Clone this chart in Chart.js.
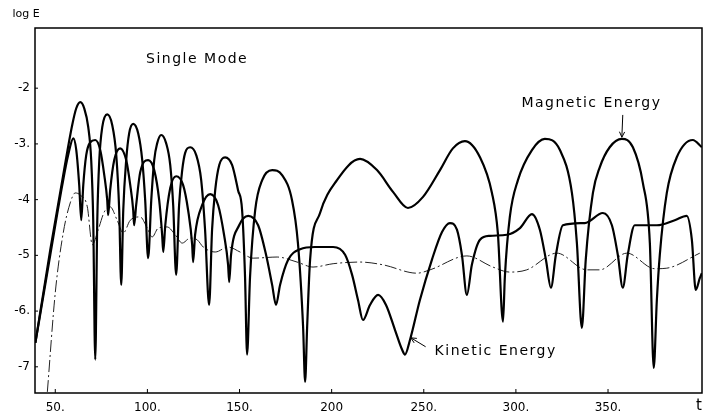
<!DOCTYPE html>
<html>
<head>
<meta charset="utf-8">
<script src="https://cdn.jsdelivr.net/npm/chart.js@4"></script>
<style>
  html, body { margin: 0; padding: 0; background: #fff; }
</style>
</head>
<body>
<canvas id="grafico" width="720" height="418"></canvas>
<script>
// Magnetic energy (thick, higher arches)
const magT = [39.2,47.3,54.3,59.2,61.4,63.6,65.7,67.9,69.5,70.6,71.7,72.8,73.9,75.5,78.2,80.9,83.1,84.7,85.8,86.9,88.5,90.1,92.3,95.0,97.2,98.8,100.4,102.1,103.7,105.3,107.5,110.2,112.4,114.0,115.6,117.2,118.9,120.5,123.2,126.5,129.2,131.3,133.5,135.1,136.8,139.0,142.2,146.0,149.2,151.4,153.0,154.1,155.7,158.5,162.3,167.7,173.1,178.5,181.7,184.5,185.6,186.7,188.3,193.7,202.9,215.4,224.6,233.3,241.4,249.6,258.8,265.8,272.3,280.5,287.0,290.2,293.0,294.0,296.7,301.1,308.7,315.7,323.9,330.4,333.1,335.8,337.9,341.8,345.5,350.9,357.5,363.5,368.9,372.7,374.8,376.5,378.1,381.9,387.3,396.0,400.9];
const magE = [-6.57,-4.90,-3.56,-2.66,-2.36,-2.25,-2.36,-2.70,-3.29,-4.37,-6.87,-4.37,-3.29,-2.70,-2.47,-2.66,-3.20,-4.19,-5.53,-4.19,-3.29,-2.81,-2.64,-2.81,-3.29,-4.01,-5.05,-4.01,-3.29,-2.99,-2.84,-2.99,-3.38,-4.10,-5.35,-4.10,-3.47,-3.16,-3.06,-3.20,-3.65,-4.54,-5.89,-4.54,-3.83,-3.38,-3.24,-3.38,-3.83,-4.19,-5.39,-6.78,-5.39,-4.19,-3.65,-3.47,-3.56,-4.01,-4.78,-6.28,-7.27,-6.28,-5.08,-4.24,-3.65,-3.27,-3.47,-3.86,-4.15,-3.95,-3.47,-3.08,-2.95,-3.24,-3.88,-4.60,-6.19,-5.39,-4.31,-3.65,-3.11,-2.91,-3.11,-3.88,-4.78,-6.30,-5.08,-3.88,-3.42,-3.06,-2.91,-3.06,-3.70,-4.78,-7.02,-5.80,-4.99,-3.88,-3.24,-2.93,-3.06];

// Kinetic energy (thick, lower arches)
const kinT = [39.2,47.3,53.8,57.0,59.8,61.4,63.0,64.1,65.2,66.8,69.0,71.7,74.4,76.6,78.2,78.7,79.8,82.0,85.2,88.5,90.7,92.3,92.8,93.9,96.1,100.4,103.7,106.4,108.0,108.6,109.7,112.4,115.6,119.4,122.1,124.3,124.8,125.9,129.7,134.1,138.4,141.6,143.8,144.4,145.4,149.8,154.7,160.1,164.4,167.7,169.8,172.0,176.4,182.9,191.0,200.8,207.3,211.1,214.3,217.0,220.8,225.2,229.5,234.4,238.2,239.8,242.5,247.9,254.4,259.9,264.2,268.0,270.7,273.4,276.1,280.5,285.9,295.1,302.2,308.7,313.0,316.3,319.0,321.7,325.5,337.4,347.2,352.1,355.3,358.0,360.7,364.5,376.5,386.2,392.7,395.5,397.6,399.8,400.9];
const kinE = [-6.57,-4.99,-3.74,-3.20,-2.90,-3.11,-3.74,-4.37,-3.74,-3.20,-2.97,-2.93,-3.11,-3.56,-4.01,-4.28,-3.83,-3.29,-3.08,-3.29,-3.74,-4.19,-4.46,-4.10,-3.51,-3.29,-3.47,-4.01,-4.63,-4.94,-4.46,-3.79,-3.58,-3.74,-4.19,-4.81,-5.12,-4.63,-4.10,-3.90,-4.10,-4.63,-5.17,-5.48,-4.99,-4.46,-4.29,-4.46,-4.99,-5.53,-5.89,-5.53,-5.08,-4.89,-4.85,-4.85,-4.99,-5.35,-5.80,-6.16,-5.89,-5.71,-5.89,-6.34,-6.69,-6.78,-6.52,-5.80,-5.08,-4.58,-4.42,-4.54,-4.99,-5.71,-5.17,-4.72,-4.65,-4.63,-4.51,-4.26,-4.54,-5.08,-5.58,-4.99,-4.46,-4.42,-4.24,-4.46,-4.99,-5.58,-4.99,-4.46,-4.46,-4.37,-4.29,-4.72,-5.62,-5.41,-5.32];

// thin dash-dot curve
const outT = [45.7,50.0,54.3,58.1,60.8,63.6,67.4,70.1,73.3,76.6,79.8,83.6,86.9,90.7,96.1,99.9,102.6,105.9,110.7,115.1,118.9,123.2,127.0,130.3,136.8,143.8,150.3,157.4,170.4,181.2,189.9,200.8,215.4,227.9,246.3,253.4,273.4,287.5,296.7,305.9,322.2,338.5,345.5,360.2,375.4,381.9,399.8];
const outE = [-7.45,-5.67,-4.60,-4.06,-3.88,-3.92,-4.13,-4.81,-4.54,-4.22,-4.13,-4.37,-4.60,-4.37,-4.31,-4.51,-4.67,-4.51,-4.49,-4.63,-4.78,-4.69,-4.72,-4.85,-4.94,-4.85,-4.94,-5.05,-5.03,-5.12,-5.21,-5.15,-5.12,-5.17,-5.32,-5.26,-5.01,-5.21,-5.30,-5.26,-4.96,-5.26,-5.26,-4.96,-5.24,-5.23,-4.96];

const xTicks = [50, 100, 150, 200, 250, 300, 350];
const xLabels = ["50.", "100.", "150.", "200", "250.", "300.", "350."];
const yTicks = [-2, -3, -4, -5, -6, -7];
const yLabels = ["-2", "-3.", "-4", "-5", "-6.", "-7"];

// annotations, in data units
const notas = [
    { texto: "Single Mode", t: 127, e: -1.48 },
    { texto: "Magnetic Energy", t: 341, e: -2.27 },
    { texto: "Kinetic Energy", t: 289, e: -6.73 }
];
const setas = [
    { de: [358, -2.48], para: [357.5, -2.88] },
    { de: [251, -6.64], para: [243, -6.48] }
];

const pares = (ts, es) => ts.map((t, i) => ({ x: t, y: es[i] }));
const fonte = '"DejaVu Sans", sans-serif';

const moldura = {
    id: 'moldura',
    afterDatasetsDraw(chart) {
        const { ctx, chartArea: a, scales: { x, y } } = chart;
        ctx.save();
        ctx.strokeStyle = '#000';
        ctx.fillStyle = '#000';
        ctx.lineWidth = 1.5;
        ctx.strokeRect(a.left, a.top, a.right - a.left, a.bottom - a.top);

        // small inward ticks
        ctx.lineWidth = 1;
        ctx.beginPath();
        xTicks.forEach((v) => {
            const px = x.getPixelForValue(v);
            ctx.moveTo(px, a.bottom); ctx.lineTo(px, a.bottom - 4);
        });
        yTicks.forEach((v) => {
            const py = y.getPixelForValue(v);
            ctx.moveTo(a.left, py); ctx.lineTo(a.left + 3, py);
        });
        ctx.stroke();

        ctx.textAlign = 'center';
        ctx.textBaseline = 'middle';
        ctx.font = '14px ' + fonte;
        ctx.letterSpacing = '1.5px';
        notas.forEach((n) => {
            ctx.fillText(n.texto, x.getPixelForValue(n.t), y.getPixelForValue(n.e));
        });
        ctx.letterSpacing = '0px';

        setas.forEach((s) => {
            const x0 = x.getPixelForValue(s.de[0]), y0 = y.getPixelForValue(s.de[1]);
            const x1 = x.getPixelForValue(s.para[0]), y1 = y.getPixelForValue(s.para[1]);
            const ang = Math.atan2(y1 - y0, x1 - x0);
            ctx.beginPath();
            ctx.moveTo(x0, y0); ctx.lineTo(x1, y1);
            ctx.moveTo(x1, y1); ctx.lineTo(x1 - 6 * Math.cos(ang - 0.45), y1 - 6 * Math.sin(ang - 0.45));
            ctx.moveTo(x1, y1); ctx.lineTo(x1 - 6 * Math.cos(ang + 0.45), y1 - 6 * Math.sin(ang + 0.45));
            ctx.stroke();
        });

        // axis names
        ctx.font = '11px ' + fonte;
        ctx.fillText('log E', a.left - 9, a.top - 14);
        ctx.font = '15px ' + fonte;
        ctx.fillText('t', a.right - 3, a.bottom + 13);
        ctx.restore();
    }
};

const ctx = document.getElementById('grafico');

new Chart(ctx, {
    type: 'line',
    data: {
        datasets: [
            {
                label: 'Magnetic Energy',
                data: pares(magT, magE),
                borderColor: '#000',
                borderWidth: 2.2,
                pointRadius: 0,
                cubicInterpolationMode: 'monotone'
            },
            {
                label: 'Kinetic Energy',
                data: pares(kinT, kinE),
                borderColor: '#000',
                borderWidth: 2.2,
                pointRadius: 0,
                cubicInterpolationMode: 'monotone'
            },
            {
                label: 'Other',
                data: pares(outT, outE),
                borderColor: '#222',
                borderWidth: 1,
                borderDash: [12, 3, 2, 3],
                pointRadius: 0,
                cubicInterpolationMode: 'monotone'
            }
        ]
    },
    options: {
        responsive: false,
        animation: false,
        devicePixelRatio: 1,
        layout: { padding: { top: 28, right: 18, left: 0, bottom: 0 } },
        plugins: { legend: { display: false }, tooltip: { enabled: false } },
        scales: {
            x: {
                type: 'linear',
                min: 39,
                max: 401,
                afterFit: (s) => { s.height = 25; },
                afterBuildTicks: (s) => { s.ticks = xTicks.map((v) => ({ value: v })); },
                grid: { display: false, drawTicks: false },
                border: { display: false },
                ticks: {
                    padding: 8,
                    color: '#000',
                    font: { family: fonte, size: 12 },
                    maxRotation: 0,
                    callback: (v) => xLabels[xTicks.indexOf(v)]
                }
            },
            y: {
                min: -7.47,
                max: -0.92,
                afterFit: (s) => { s.width = 35; },
                afterBuildTicks: (s) => { s.ticks = yTicks.map((v) => ({ value: v })); },
                grid: { display: false, drawTicks: false },
                border: { display: false },
                ticks: {
                    padding: 5,
                    color: '#000',
                    font: { family: fonte, size: 12 },
                    callback: (v) => yLabels[yTicks.indexOf(v)]
                }
            }
        }
    },
    plugins: [moldura]
});
</script>
</body>
</html>
